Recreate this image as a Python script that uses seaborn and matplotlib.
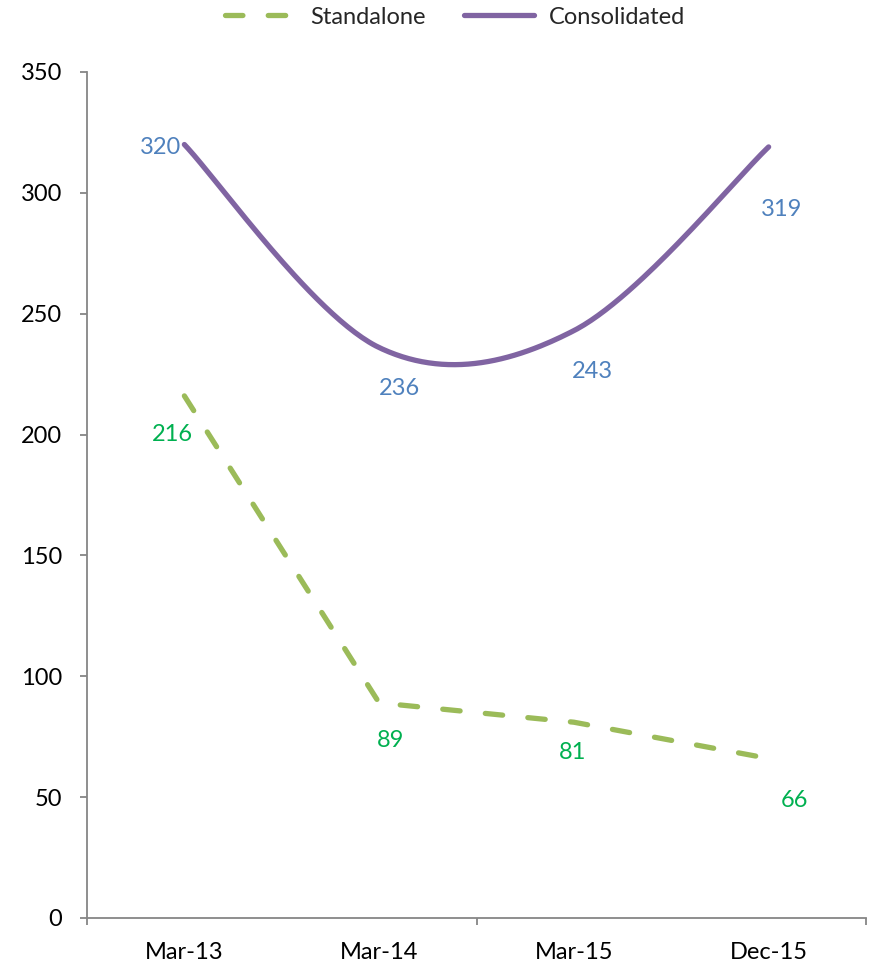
import numpy as np
import pandas as pd
import matplotlib
matplotlib.use("Agg")
import matplotlib.pyplot as plt
from matplotlib.lines import Line2D
import seaborn as sns

# Period labels and values
periods = ["Mar-13", "Mar-14", "Mar-15", "Dec-15"]
standalone = [216, 89, 81, 66]
consolidated = [320, 236, 243, 319]

# Per-label pixel offsets (dx, dy) from each point
standalone_offsets = [(-12, -39), (11, -38), (-1, -30), (26, -42)]
consolidated_offsets = [(-24, -3), (20, -41), (19, -41), (13, -63)]

GREEN = "#9BBB59"
PURPLE = "#8064A2"
GREEN_TXT = "#00B050"
BLUE_TXT = "#4F81BD"
AXIS_GRAY = "#868686"

sns.set_style("white")
plt.rcParams["font.family"] = ["Lato", "DejaVu Sans"]
FS = 17
LW = 3.8


def smooth_curve(xs, ys, n=60):
    """Cubic Bezier smoothing through every point (cardinal spline, 1/6 tangents)."""
    xs = np.asarray(xs, float)
    ys = np.asarray(ys, float)
    pts = np.column_stack([xs, ys])
    out = []
    for i in range(len(pts) - 1):
        p0 = pts[i - 1] if i > 0 else pts[i]
        p1 = pts[i]
        p2 = pts[i + 1]
        p3 = pts[i + 2] if i + 2 < len(pts) else pts[i + 1]
        c1 = p1 + (p2 - p0) / 6.0
        c2 = p2 - (p3 - p1) / 6.0
        t = np.linspace(0, 1, n)[:, None]
        seg = ((1 - t) ** 3) * p1 + 3 * ((1 - t) ** 2) * t * c1 + 3 * (1 - t) * t ** 2 * c2 + t ** 3 * p2
        out.append(seg if i == 0 else seg[1:])
    seg = np.vstack(out)
    return seg[:, 0], seg[:, 1]


x = np.arange(len(periods))
df_std = pd.DataFrame({"x": x, "value": standalone})
sx, sy = smooth_curve(x, consolidated)
df_con = pd.DataFrame({"x": sx, "value": sy})

fig = plt.figure(figsize=(8.75, 9.66), dpi=100)
ax = fig.add_axes([87 / 875, 48 / 966, (866 - 87) / 875, (918 - 72) / 966])

sns.lineplot(data=df_std, x="x", y="value", ax=ax, color=GREEN, linewidth=LW,
             dashes=False, sort=False)
ax.lines[-1].set_dashes((3.3, 4.8))
ax.lines[-1].set_dash_capstyle("round")

sns.lineplot(data=df_con, x="x", y="value", ax=ax, color=PURPLE, linewidth=LW,
             sort=False)
ax.lines[-1].set_solid_capstyle("round")

for xi, v, (dx, dy) in zip(x, standalone, standalone_offsets):
    ax.annotate(str(v), (xi, v), xytext=(dx, dy), textcoords="offset pixels",
                ha="center", va="center", color=GREEN_TXT, fontsize=FS)
for xi, v, (dx, dy) in zip(x, consolidated, consolidated_offsets):
    ax.annotate(str(v), (xi, v), xytext=(dx, dy), textcoords="offset pixels",
                ha="center", va="center", color=BLUE_TXT, fontsize=FS)

ax.set_xlim(-0.5, len(periods) - 0.5)
ax.set_ylim(0, 350)
ax.set_yticks(np.arange(0, 351, 50))
ax.set_xticks(x)
ax.set_xticklabels(periods)
ax.set_xticks([-0.5, 1.5, 3.5], minor=True)
ax.set_xlabel("")
ax.set_ylabel("")

for side in ["top", "right"]:
    ax.spines[side].set_visible(False)
for side in ["left", "bottom"]:
    ax.spines[side].set_color(AXIS_GRAY)
    ax.spines[side].set_linewidth(1.3)

ax.tick_params(axis="y", which="major", left=True, length=5, width=1.3,
               color=AXIS_GRAY, labelsize=FS, pad=13, labelcolor="black")
ax.tick_params(axis="x", which="major", bottom=True, length=0, labelsize=FS,
               pad=17, labelcolor="black")
ax.tick_params(axis="x", which="minor", bottom=True, length=5, width=1.3,
               color=AXIS_GRAY)

handles = [
    Line2D([], [], color=GREEN, linewidth=LW, dashes=(3.3, 4.8), dash_capstyle="round"),
    Line2D([], [], color=PURPLE, linewidth=LW, solid_capstyle="round"),
]
fig.legend(handles, ["Standalone", "Consolidated"], loc="center",
           bbox_to_anchor=(0.52, 1 - 17 / 966), ncol=2, frameon=False,
           fontsize=FS, handlelength=3.0, handletextpad=0.6, columnspacing=1.6,
           borderaxespad=0)

fig.savefig("out.png", dpi=100)
